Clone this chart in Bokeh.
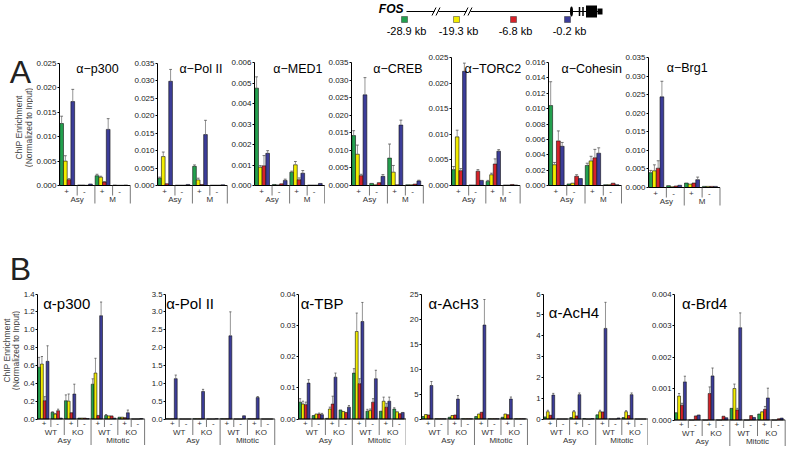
import numpy as np
from bokeh.plotting import figure
from bokeh.models import Range1d, FixedTicker, NumeralTickFormatter
from bokeh.layouts import row, column
from bokeh.embed import file_html
from bokeh.resources import INLINE
from bokeh.core.properties import value

nan = float("nan")

# ---------------------------------------------------------------- data
GENE = "FOS"
SITES = ["-28.9 kb", "-19.3 kb", "-6.8 kb", "-0.2 kb"]

A_TITLES = ["α−p300", "α−Pol II", "α−MED1", "α−CREB", "α−TORC2", "α−Cohesin", "α−Brg1"]
A_SIGNS = ["+", "-", "+", "-"]
A_GROUPS = ["Asy", "M"]
A_YMAX = [0.025, 0.035, 0.006, 0.035, 0.025, 0.016, 0.035]
A_STEP = [0.005, 0.005, 0.001, 0.005, 0.005, 0.002, 0.005]

# series order: green (-28.9), yellow (-19.3), red (-6.8), blue (-0.2)
# conditions: Asy +, Asy -, M +, M -
A_P300 = [[0.0127, 0.0001, 0.0020, 0.0001],
          [0.0050, 0.0001, 0.0017, 0.00005],
          [0.0012, 0.00005, 0.0007, 0.00005],
          [0.0172, 0.0003, 0.0115, 0.0001]]
A_P300_ERR = [[0.0142, nan, 0.0023, nan],
              [0.0061, nan, 0.0019, nan],
              [0.0014, nan, 0.0008, nan],
              [0.0197, nan, 0.0137, nan]]
A_POL2 = [[0.0021, 0.0001, 0.0055, 0.0001],
          [0.0083, 0.0001, 0.0016, 0.0001],
          [0.0005, 0.0001, 0.0003, 0.0001],
          [0.0299, 0.0003, 0.0146, 0.0002]]
A_POL2_ERR = [[0.0024, nan, 0.0059, nan],
              [0.0096, nan, 0.0021, nan],
              [nan, nan, nan, nan],
              [0.0333, nan, 0.0187, nan]]
A_MED1 = [[0.00475, 0.00005, 0.00065, 0.00002],
          [0.00089, 0.00003, 0.00101, 0.00002],
          [0.00096, 0.00008, 0.00028, 0.00002],
          [0.00157, 0.00025, 0.00060, 0.00010]]
A_MED1_ERR = [[0.0053, nan, 0.0007, nan],
              [0.00097, nan, 0.00117, nan],
              [0.00146, nan, 0.00037, nan],
              [0.00170, 0.00031, 0.00073, nan]]
A_CREB = [[0.0142, 0.0006, 0.0078, 0.0002],
          [0.0089, 0.0002, 0.0038, 0.0002],
          [0.0028, 0.0008, 0.0002, 0.0004],
          [0.0258, 0.0026, 0.0172, 0.0013]]
A_CREB_ERR = [[0.0156, nan, 0.0118, nan],
              [0.0115, nan, 0.0057, nan],
              [0.0032, nan, nan, nan],
              [0.0307, 0.0031, 0.0186, 0.0015]]
A_TORC2 = [[0.0031, 0.0001, 0.0008, 0.0001],
           [0.0095, 0.0001, 0.0021, 0.0001],
           [0.0029, 0.0028, 0.0042, 0.0002],
           [0.0223, 0.0010, 0.0067, 0.0001]]
A_TORC2_ERR = [[0.0037, nan, 0.0010, nan],
               [0.0108, nan, 0.0024, nan],
               [0.0033, 0.0031, 0.0052, nan],
               [0.0239, nan, 0.0070, nan]]
A_COHESIN = [[0.0104, 0.0002, 0.0026, 0.0001],
             [0.0027, 0.0003, 0.0032, 0.0001],
             [0.0058, 0.0012, 0.0036, 0.0003],
             [0.0051, 0.0009, 0.0042, 0.0001]]
A_COHESIN_ERR = [[0.0135, nan, 0.0029, nan],
                 [0.0030, nan, 0.0038, nan],
                 [0.0071, 0.0014, 0.0047, nan],
                 [0.0056, nan, 0.0049, nan]]
A_BRG1 = [[0.0040, 0.0005, 0.0012, 0.0003],
          [0.0045, 0.0002, 0.0009, 0.0003],
          [0.0052, 0.0004, 0.0012, 0.0003],
          [0.0244, 0.0006, 0.0021, 0.0003]]
A_BRG1_ERR = [[0.0046, nan, nan, nan],
              [0.0061, nan, nan, nan],
              [0.0072, nan, nan, nan],
              [0.0286, nan, 0.0028, nan]]

B_TITLES = ["α-p300", "α-Pol II", "α-TBP", "α-AcH3", "α-AcH4", "α-Brd4"]
B_SIGNS = ["+", "-", "+", "-", "+", "-", "+", "-"]
B_GENOTYPES = ["WT", "KO", "WT", "KO"]
B_GROUPS = ["Asy", "Mitotic"]
B_YMAX = [1.4, 3.5, 0.04, 25, 6, 0.004]
B_STEP = [0.2, 0.5, 0.01, 5, 1, 0.001]
B_FMT = ["0.0", "0.0", "0.00", "0", "0", "0.000"]

# conditions: Asy WT+, WT-, KO+, KO-, Mitotic WT+, WT-, KO+, KO-
B_P300 = [[0.58, 0.075, 0.205, 0.01, 0.39, 0.04, 0.02, 0.0],
          [0.616, 0.056, 0.20, 0.01, 0.515, 0.035, 0.02, 0.0],
          [0.205, 0.093, 0.07, 0.01, 0.04, 0.035, 0.015, 0.0],
          [0.646, 0.01, 0.28, 0.005, 1.157, 0.01, 0.07, 0.005]]
B_P300_ERR = [[0.69, 0.08, 0.27, nan, 0.45, 0.05, nan, nan],
              [0.70, 0.06, 0.28, nan, 0.68, nan, nan, nan],
              [0.25, 0.11, nan, nan, nan, nan, nan, nan],
              [0.82, nan, 0.39, nan, 1.31, nan, 0.10, nan]]
B_POL2 = [[0.005, 0.0, 0.005, 0.0, 0.005, 0.0, 0.005, 0.0],
          [0.005, 0.0, 0.005, 0.0, 0.005, 0.0, 0.005, 0.0],
          [0.005, 0.0, 0.005, 0.0, 0.005, 0.0, 0.005, 0.0],
          [1.13, 0.0, 0.77, 0.01, 2.33, 0.09, 0.60, 0.0]]
B_POL2_ERR = [[nan] * 8, [nan] * 8, [nan] * 8,
              [1.23, nan, 0.83, nan, 3.0, nan, 0.63, nan]]
B_TBP = [[0.0054, 0.0011, 0.0002, 0.0029, 0.0147, 0.0025, 0.0025, 0.0032],
         [0.0048, 0.0016, 0.0032, 0.0024, 0.0280, 0.0027, 0.0057, 0.0023],
         [0.0046, 0.0016, 0.0048, 0.0021, 0.0113, 0.0054, 0.0038, 0.0017],
         [0.0115, 0.0014, 0.0134, 0.0038, 0.0312, 0.0129, 0.0057, 0.0021]]
B_TBP_ERR = [[0.0065, nan, nan, nan, 0.0161, 0.0031, nan, 0.0036],
             [0.0057, nan, 0.0038, nan, 0.0339, 0.0032, 0.0070, nan],
             [0.0054, 0.0019, 0.0073, nan, 0.0129, 0.0065, 0.0050, nan],
             [0.0126, 0.0018, 0.0147, 0.0043, 0.0373, 0.0156, 0.0070, nan]]
B_ACH3 = [[0.5, 0.05, 0.35, 0.05, 0.5, 0.05, 0.35, 0.05],
          [0.9, 0.05, 0.7, 0.05, 1.0, 0.05, 1.0, 0.05],
          [0.8, 0.05, 0.8, 0.05, 1.35, 0.05, 0.85, 0.05],
          [6.7, 0.05, 4.0, 0.05, 18.8, 0.05, 4.0, 0.05]]
B_ACH3_ERR = [[nan] * 8, [nan] * 8, [nan] * 8,
              [7.5, nan, 4.7, nan, 23.9, nan, 4.4, nan]]
B_ACH4 = [[0.10, 0.0, 0.07, 0.02, 0.20, 0.0, 0.07, 0.0],
          [0.35, 0.0, 0.35, 0.0, 0.35, 0.0, 0.35, 0.0],
          [0.18, 0.0, 0.15, 0.0, 0.34, 0.0, 0.17, 0.0],
          [1.15, 0.0, 1.17, 0.02, 4.35, 0.05, 1.17, 0.0]]
B_ACH4_ERR = [[nan] * 8,
              [0.42, nan, 0.40, nan, 0.42, nan, 0.40, nan],
              [nan] * 8,
              [1.23, nan, 1.25, nan, 5.6, nan, 1.25, nan]]
B_BRD4 = [[0.00023, 0.0, 0.0, 0.0, 0.00037, 0.0, 0.00019, 0.0],
          [0.00076, 0.0, 0.0, 0.0, 0.00100, 0.0, 0.00026, 0.0],
          [0.00047, 0.00013, 0.00084, 0.00012, 0.00032, 0.00014, 0.00034, 0.00004],
          [0.00121, 0.00016, 0.00140, 0.00007, 0.00293, 0.00008, 0.00070, 0.00006]]
B_BRD4_ERR = [[nan] * 8,
              [0.00084, nan, nan, nan, 0.00114, nan, nan, nan],
              [0.00053, nan, 0.00105, nan, 0.00037, nan, 0.00043, nan],
              [0.00139, nan, 0.00165, nan, 0.00340, nan, 0.00101, nan]]

A_VALUES = [A_P300, A_POL2, A_MED1, A_CREB, A_TORC2, A_COHESIN, A_BRG1]
A_ERRORS = [A_P300_ERR, A_POL2_ERR, A_MED1_ERR, A_CREB_ERR, A_TORC2_ERR, A_COHESIN_ERR, A_BRG1_ERR]
B_VALUES = [B_P300, B_POL2, B_TBP, B_ACH3, B_ACH4, B_BRD4]
B_ERRORS = [B_P300_ERR, B_POL2_ERR, B_TBP_ERR, B_ACH3_ERR, B_ACH4_ERR, B_BRD4_ERR]

Y_LABEL = ["ChIP Enrichment", "(Normalized to Input)"]
PANEL_LETTERS = ["A", "B"]

# ---------------------------------------------------------------- style / layout
COLORS = ["#23a04e", "#f2ec00", "#d62229", "#3c3d99"]
FONT = "Liberation Sans"
DIAG_H = 50
ROW_A_TOP, ROW_A_H = 50, 238
ROW_B_TOP, ROW_B_H = 288, 161
FULL_W = 788

# fig_left, border, fig_right, top_px, base_px, slot_px, title_cx, title_cy
A_LAYOUT = [
    (33, 26, 131, 63, 185, 17.7, 97, 68),
    (131, 25, 228, 63, 185, 17.7, 200, 68),
    (228, 25, 325, 62, 185, 17.8, 297, 68),
    (325, 25, 425, 62, 185, 18.2, 397, 68),
    (425, 25, 522, 57, 185, 17.4, 492, 68),
    (522, 23, 622, 62, 185, 19.0, 590, 68),
    (622, 25, 788, 57, 187, 18.0, 686, 67),
]
B_LAYOUT = [
    (20, 14, 148, 293.5, 418.5, 13.75, 64, 303),
    (148, 15, 277, 293.5, 418.5, 13.9, 188, 303),
    (277, 19, 406, 293.5, 418.5, 13.7, 320, 303),
    (406, 12, 533, 293.5, 418.5, 13.6, 451, 303),
    (533, 8, 648, 293.5, 418.5, 13.3, 572, 312),
    (648, 23, 788, 293.5, 419.5, 14.2, 702, 303),
]
OFFS = [0.12, 0.33, 0.54, 0.75]
BW = 0.21


def bare(width, height, x_range, y_range):
    f = figure(width=width, height=height, x_range=x_range, y_range=y_range,
               output_backend="svg", toolbar_location=None, x_axis_location=None,
               y_axis_location=None, min_border_left=0, min_border_right=0,
               min_border_top=0, min_border_bottom=0)
    f.outline_line_color = None
    f.grid.visible = False
    return f


def make_panel(values, errors, ymax, step, fmt, title, title_size, lay,
               row_top, row_h, tick_size, kind):
    fig_left, border, fig_right, top_px, base_px, slot_px, tcx, tcy = lay
    n = len(values[0])
    axis_x = fig_left + border
    frame_w = fig_right - axis_x
    ppu = (base_px - top_px) / ymax
    y0 = -(row_top + row_h - base_px) / ppu
    y1 = ymax + (top_px - row_top) / ppu
    p = figure(width=fig_right - fig_left, height=row_h,
               x_range=Range1d(0, frame_w / slot_px), y_range=Range1d(y0, y1),
               output_backend="svg", toolbar_location=None, x_axis_location=None,
               min_border_left=border, min_border_right=0, min_border_top=0,
               min_border_bottom=0)
    p.outline_line_color = None
    p.grid.visible = False
    ax = p.yaxis[0]
    ax.bounds = (0, ymax)
    ax.ticker = FixedTicker(ticks=[round(k * step, 6) for k in range(int(round(ymax / step)) + 1)])
    ax.formatter = NumeralTickFormatter(format=fmt)
    ax.major_label_text_font_size = tick_size
    ax.major_label_text_font = FONT
    ax.major_label_text_color = "#222222"
    ax.major_tick_out = 2
    ax.major_tick_in = 0
    ax.minor_tick_out = 0
    ax.minor_tick_in = 0
    ax.major_label_standoff = 1
    ax.axis_line_color = "black"
    ax.major_tick_line_color = "black"

    def X(px):
        return (px - axis_x) / slot_px

    def Y(py):
        return (base_px - py) / ppu

    for k in range(4):
        xs = [i + OFFS[k] for i in range(n)]
        p.vbar(x=xs, top=values[k], bottom=0, width=BW, fill_color=COLORS[k],
               line_color="#111111", line_width=0.6)
        ex = [x for x, e in zip(xs, errors[k]) if e == e]
        eb = [v for v, e in zip(values[k], errors[k]) if e == e]
        et = [e for e in errors[k] if e == e]
        if ex:
            p.segment(x0=ex, y0=eb, x1=ex, y1=et, line_color="#7a7a7a", line_width=0.8)
            p.segment(x0=[x - 0.08 for x in ex], y0=et, x1=[x + 0.08 for x in ex], y1=et,
                      line_color="#555555", line_width=0.8)

    p.segment(x0=[0], y0=[0], x1=[n], y1=[0], line_color="black", line_width=1)

    lab = dict(text_font=value(FONT), text_font_size="8px", text_color="#333333",
               text_align="center", text_baseline="middle")
    seps = list(range(1, n + 1))
    if kind == "A":
        lens = [10 if b % 2 else 18 for b in seps]
        p.segment(x0=seps, y0=[0] * n, x1=seps, y1=[Y(base_px + L) for L in lens],
                  line_color="#555555", line_width=0.8)
        p.text(x=[i + 0.4 for i in range(n)], y=[Y(base_px + 5.5)] * n, text=A_SIGNS, **lab)
        p.text(x=[1, 3], y=[Y(base_px + 13.5)] * 2, text=A_GROUPS, **lab)
    else:
        lens = [8 if b % 2 else (16 if b % 4 else 26) for b in seps]
        p.segment(x0=seps, y0=[0] * n, x1=seps, y1=[Y(base_px + L) for L in lens],
                  line_color="#555555", line_width=0.8)
        p.text(x=[i + 0.5 for i in range(n)], y=[Y(base_px + 4.5)] * n, text=B_SIGNS, **lab)
        p.text(x=[1, 3, 5, 7], y=[Y(base_px + 13.5)] * 4, text=B_GENOTYPES, **lab)
        p.text(x=[2, 6], y=[Y(base_px + 21.5)] * 2, text=B_GROUPS, **lab)

    p.text(x=[X(tcx)], y=[Y(tcy)], text=[title], text_font=value(FONT),
           text_font_size=title_size, text_color="black", text_align="center",
           text_baseline="middle")
    return p


# ---------------------------------------------------------------- gene diagram (image px coords)
d = bare(FULL_W, DIAG_H, Range1d(0, FULL_W), Range1d(DIAG_H, 0))
SITE_X = [404, 456, 513, 567]
LINE_Y = 11
d.segment(x0=[406], y0=[LINE_Y], x1=[600], y1=[LINE_Y], line_color="black", line_width=1.2)
for bx in [436, 468]:
    d.quad(left=[bx - 2], right=[bx + 2], top=[LINE_Y - 3], bottom=[LINE_Y + 3],
           fill_color="white", line_color=None)
    d.segment(x0=[bx - 4.5, bx - 0.5], y0=[LINE_Y + 4, LINE_Y + 4],
              x1=[bx - 0.5, bx + 3.5], y1=[LINE_Y - 4, LINE_Y - 4],
              line_color="black", line_width=1)
d.rect(x=SITE_X, y=[19] * 4, width=6, height=6, fill_color=COLORS,
       line_color="#333333", line_width=0.5)
d.text(x=[x + 2 for x in SITE_X], y=[30.5] * 4, text=SITES, text_font=value(FONT),
       text_font_size="11px", text_color="black", text_align="center",
       text_baseline="middle")
d.text(x=[403], y=[LINE_Y - 3], text=[GENE], text_font=value(FONT), text_font_size="12px",
       text_font_style="bold italic", text_color="black", text_align="right",
       text_baseline="middle")
d.ellipse(x=[571], y=[LINE_Y], width=3, height=10, fill_color="black", line_color=None)
d.rect(x=[579, 582.5], y=[LINE_Y] * 2, width=1.5, height=9, fill_color="black", line_color=None)
d.rect(x=[591], y=[LINE_Y], width=11, height=12, fill_color="black", line_color=None)
d.rect(x=[599.5], y=[LINE_Y], width=5, height=6, fill_color="black", line_color=None)

# ---------------------------------------------------------------- gutters (panel letters + y labels)
gA = bare(33, ROW_A_H, Range1d(0, 33), Range1d(ROW_A_TOP + ROW_A_H, ROW_A_TOP))
gA.text(x=[20, 20], y=[71, 268], text=PANEL_LETTERS, text_font=value(FONT),
        text_font_size="32px", text_color="#222222", text_align="center",
        text_baseline="middle")
gA.text(x=[18, 28], y=[127, 127], text=Y_LABEL, angle=np.pi / 2, text_font=value(FONT),
        text_font_size="8.5px", text_color="#444444", text_align="center",
        text_baseline="middle")

gB = bare(20, ROW_B_H, Range1d(0, 20), Range1d(ROW_B_TOP + ROW_B_H, ROW_B_TOP))
gB.text(x=[6.5, 15], y=[350, 350], text=Y_LABEL, angle=np.pi / 2, text_font=value(FONT),
        text_font_size="8.5px", text_color="#444444", text_align="center",
        text_baseline="middle")

# ---------------------------------------------------------------- panels
a_figs = [gA]
for i in range(7):
    a_figs.append(make_panel(A_VALUES[i], A_ERRORS[i], A_YMAX[i], A_STEP[i], "0.000",
                             A_TITLES[i], "12.5px", A_LAYOUT[i], ROW_A_TOP, ROW_A_H,
                             "8px", "A"))

b_figs = [gB]
for i in range(6):
    b_figs.append(make_panel(B_VALUES[i], B_ERRORS[i], B_YMAX[i], B_STEP[i], B_FMT[i],
                             B_TITLES[i], "15px", B_LAYOUT[i], ROW_B_TOP, ROW_B_H,
                             "7.8px", "B"))

layout = column(d, row(*a_figs), row(*b_figs))
open("out.html", "w").write(file_html(layout, INLINE))
